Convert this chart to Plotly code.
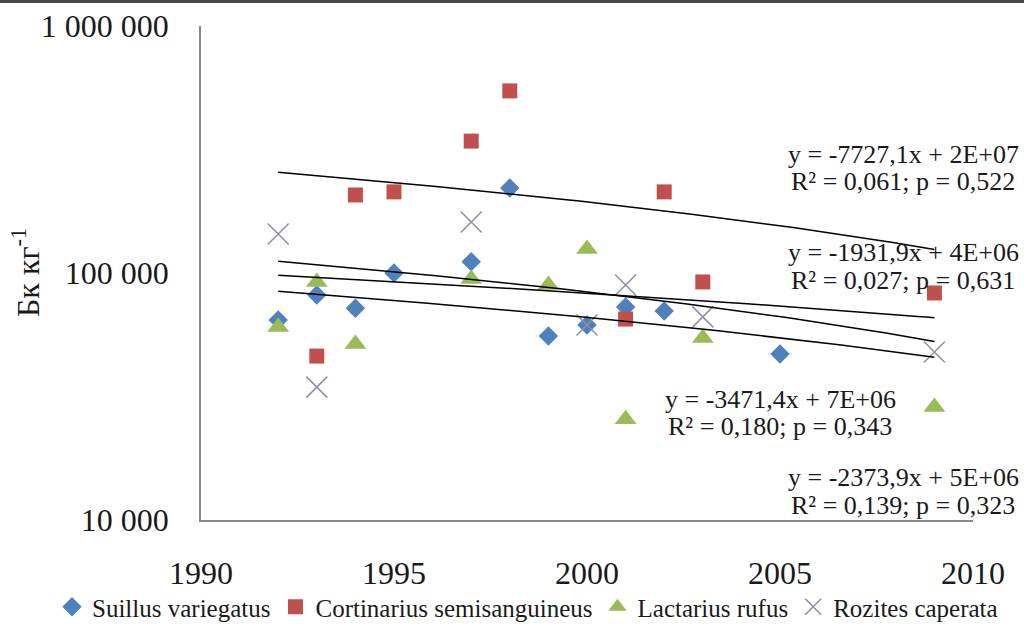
import numpy as np
import plotly.graph_objects as go

# ---------------- data ----------------
suillus_years = [1992, 1993, 1994, 1995, 1997, 1998, 1999, 2000, 2001, 2002, 2005]
suillus_vals = [64500, 81500, 72000, 100000, 111000, 221000, 55600, 61600, 72800, 70200, 47000]

cortinarius_years = [1993, 1994, 1995, 1997, 1998, 2001, 2002, 2003, 2009]
cortinarius_vals = [46100, 207000, 213000, 342000, 546000, 65100, 213000, 92000, 83000]

lactarius_years = [1992, 1993, 1994, 1997, 1999, 2000, 2001, 2003, 2009]
lactarius_vals = [60400, 92000, 51600, 94600, 89400, 125000, 25600, 54600, 28700]

rozites_years = [1992, 1993, 1997, 2000, 2001, 2003, 2009]
rozites_vals = [143800, 34500, 160900, 61600, 89400, 66400, 47900]

series_names = ["Suillus variegatus", "Cortinarius semisanguineus",
                "Lactarius rufus", "Rozites caperata"]

eq_lines = ["y = -7727,1x + 2E+07", "y = -1931,9x + 4E+06",
            "y = -3471,4x + 7E+06", "y = -2373,9x + 5E+06"]
stat_lines = ["R² = 0,061; p = 0,522", "R² = 0,027; p = 0,631",
              "R² = 0,180; p = 0,343", "R² = 0,139; p = 0,323"]

x_ticks = [1990, 1995, 2000, 2005, 2010]
y_tickvals = [10000, 100000, 1000000]
y_ticktext = ["10 000", "100 000", "1 000 000"]
y_title = "Бк кг<sup>-1</sup>"

# ---------------- layout constants ----------------
W, H = 1024, 626
L, R, T, B = 201, 51, 26, 106
PW, PH = W - L - R, H - T - B
FONT = "Liberation Serif, Times New Roman, serif"


def px_x(px):
    return (px - L) / PW


def px_y(py):
    return (H - B - py) / PH


fig = go.Figure()

styles = [
    dict(symbol="diamond", size=15, color="#4F81BD"),
    dict(symbol="square", size=15, color="#C0504D"),
    dict(symbol="triangle-up", size=19, color="#9BBB59"),
    dict(symbol="x-thin", size=21, color="#8F8FA8", line=dict(width=1.6, color="#8F8FA8")),
]
data = [(suillus_years, suillus_vals), (cortinarius_years, cortinarius_vals),
        (lactarius_years, lactarius_vals), (rozites_years, rozites_vals)]

for (xs, ys), name, st in zip(data, series_names, styles):
    fig.add_trace(go.Scatter(x=xs, y=ys, mode="markers", name=name, marker=st))

# linear trendlines (fitted from the data, drawn over full data x range)
all_years = sum([d[0] for d in data], [])
x0, x1 = min(all_years), max(all_years)
xs_fit = np.linspace(x0, x1, 80)
for xs, ys in data:
    k, b = np.polyfit(np.array(xs, float), np.array(ys, float), 1)
    fig.add_trace(go.Scatter(x=xs_fit, y=k * xs_fit + b, mode="lines",
                             line=dict(color="black", width=1.5),
                             showlegend=False, hoverinfo="skip"))

# equation labels (pixel centres)
label_pos = [(903, 154, 181), (903, 252, 280), (780, 399, 426), (903, 477.5, 505)]
ann = []
for (cx, y1, y2), e, s in zip(label_pos, eq_lines, stat_lines):
    for txt, py in ((e, y1), (s, y2)):
        ann.append(dict(text=txt, x=px_x(cx), y=px_y(py), xref="paper", yref="paper",
                        xanchor="center", yanchor="middle", showarrow=False,
                        font=dict(family=FONT, size=26, color="#1a1a1a")))
ann.append(dict(text=y_title, x=px_x(26), y=px_y(273), xref="paper", yref="paper",
                xanchor="center", yanchor="middle", showarrow=False, textangle=-90,
                font=dict(family=FONT, size=32, color="#1a1a1a")))

fig.update_layout(
    width=W, height=H,
    margin=dict(l=L, r=R, t=T, b=B, autoexpand=False),
    paper_bgcolor="white", plot_bgcolor="white",
    font=dict(family=FONT, color="#1a1a1a"),
    annotations=ann,
    showlegend=True,
    legend=dict(orientation="h", x=px_x(52), xanchor="left", y=px_y(607), yanchor="middle",
                font=dict(family=FONT, size=25, color="#1a1a1a"),
                bgcolor="rgba(0,0,0,0)", itemclick=False),
    shapes=[dict(type="line", xref="paper", yref="paper", x0=px_x(0), x1=px_x(W),
                 y0=px_y(1.5), y1=px_y(1.5), line=dict(color="#4a4a4a", width=3))],
)

fig.update_xaxes(range=[1990, 2010], tickvals=x_ticks, showgrid=False, zeroline=False,
                 showline=True, linecolor="#888888", linewidth=1.5,
                 ticks="outside", ticklen=24, tickcolor="rgba(0,0,0,0)",
                 tickfont=dict(family=FONT, size=32, color="#1a1a1a"))
fig.update_yaxes(type="log", range=[4, 6], tickvals=y_tickvals, ticktext=y_ticktext,
                 showgrid=False, zeroline=False, showline=True, linecolor="#888888",
                 linewidth=1.5, ticks="outside", ticklen=24, tickcolor="rgba(0,0,0,0)",
                 tickfont=dict(family=FONT, size=32, color="#1a1a1a"))

fig.write_html("out.html",
               config={"displayModeBar": False},
               post_script="document.body.style.margin='0';"
                           "document.body.style.overflow='hidden';")
